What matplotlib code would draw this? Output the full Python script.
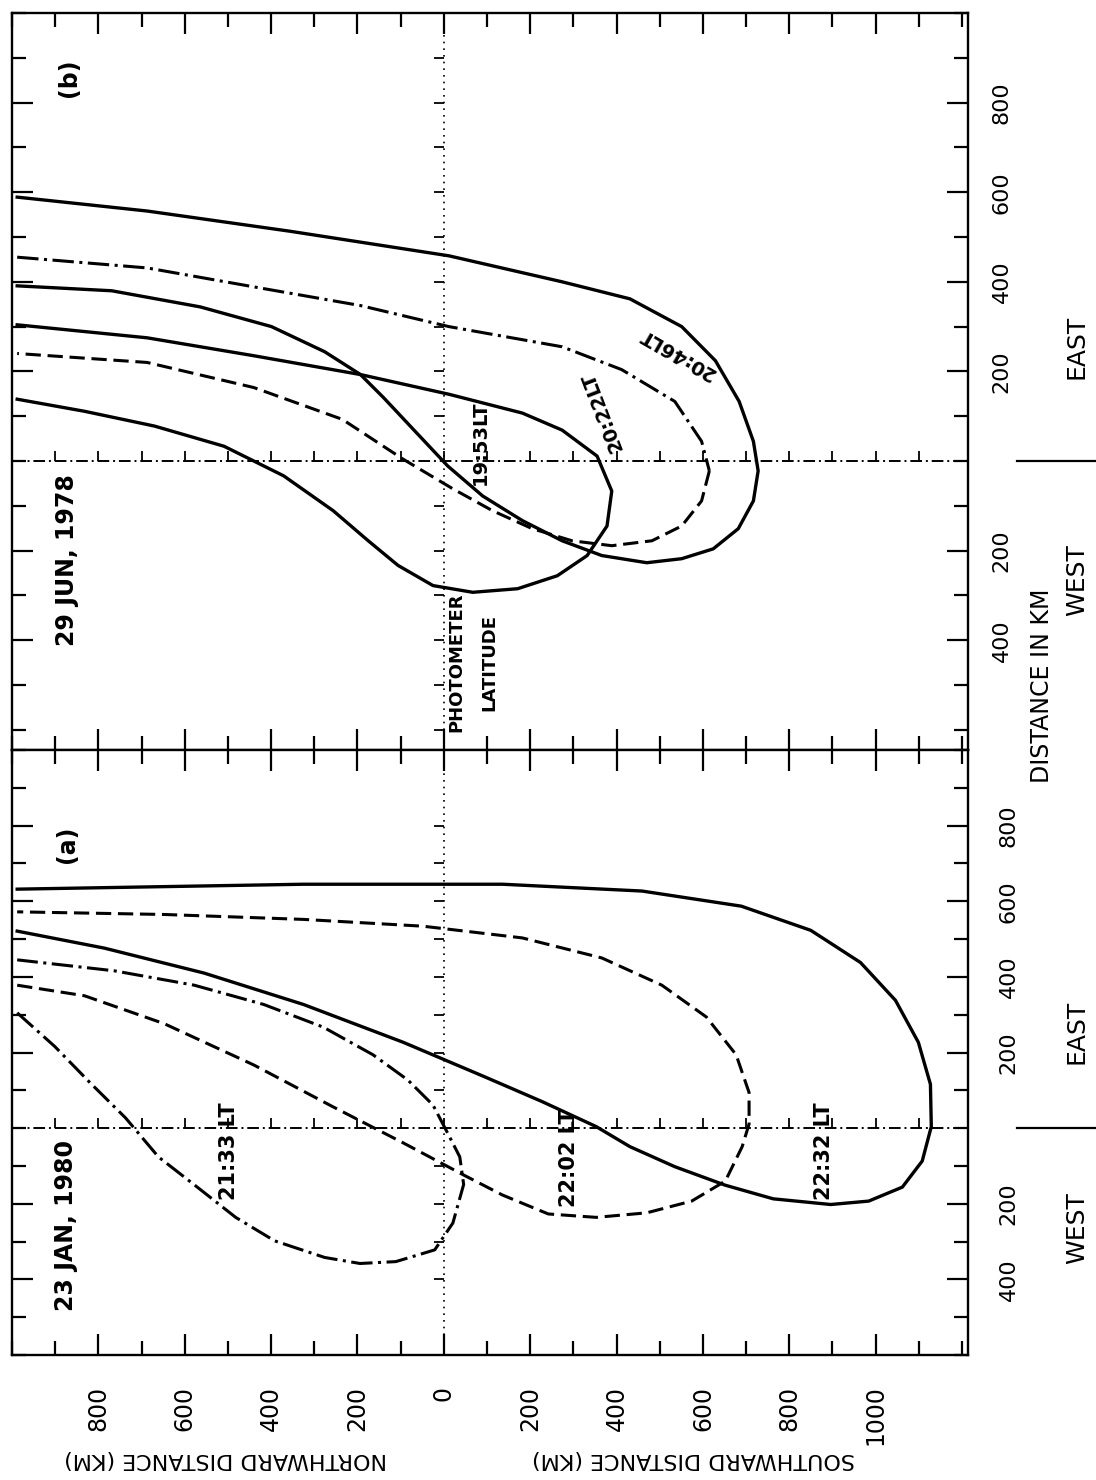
import matplotlib
matplotlib.use("Agg")
import matplotlib.pyplot as plt

plt.rcParams['font.family'] = ['DejaVu Sans']

W, H = 1096, 1480
X0, X1 = 12, 968
B_TOP, SEP, A_BOT = 13, 750, 1355

NS_LIM = (988, -1214)   # northward distance (km), north on the left
B_LIM = (-645, 993)     # eastward distance (km), panel (b)
A_LIM = (-495, 849)     # eastward distance (km), panel (a)

# ---------------- panel (b): 29 JUN 1978 ----------------
# 20:46 LT, solid
b_2046_n = [988, 687, 357, -12, -274, -431, -551, -629, -684, -717, -728, -717,
            -682, -624, -551, -470, -366, -274, -182, -90, -9, 69, 140, 193,
            276, 399, 564, 769, 988]
b_2046_e = [589, 558, 513, 458, 400, 362, 300, 224, 133, 44, -22, -89,
            -151, -196, -218, -227, -211, -178, -133, -78, -11, 69, 142, 193,
            244, 300, 344, 380, 391]
# 20:22 LT, dash-dot outer arm then dashed
b_2022_n = [988, 687, 424, 193, -12, -274, -412, -535, -597, -615, -597, -551,
            -482, -389, -297, -205, -113, -21, 94, 235, 440, 687, 988]
b_2022_e = [455, 431, 386, 347, 300, 255, 204, 133, 44, -22, -89, -145,
            -178, -189, -178, -151, -111, -62, 4, 93, 164, 220, 240]
# 19:53 LT, solid
b_1953_n = [988, 687, 440, 193, -12, -182, -274, -355, -389, -378, -332, -263,
            -171, -67, 25, 106, 175, 256, 371, 509, 670, 832, 988]
b_1953_e = [304, 275, 235, 193, 149, 107, 69, 11, -67, -145, -211, -256,
            -285, -293, -278, -233, -178, -111, -33, 33, 78, 111, 138]

# ---------------- panel (a): 23 JAN 1980 ----------------
# 21:33 LT, dash-dot
a_2133_n = [988, 901, 820, 737, 661, 571, 482, 392, 276, 194, 111, 21, -21,
            -46, -37, -12, 25, 83, 164, 279, 417, 578, 763, 988]
a_2133_e = [305, 216, 121, 27, -76, -156, -236, -298, -342, -358, -353, -322,
            -251, -149, -76, -20, 61, 127, 194, 267, 327, 378, 416, 445]
# 22:02 LT, dashed
a_2202_n = [988, 832, 647, 440, 256, 94, -46, -136, -242, -353, -470, -574,
            -652, -691, -707, -707, -677, -608, -505, -366, -182, 48, 325,
            647, 988]
a_2202_e = [378, 350, 276, 167, 56, -39, -124, -177, -227, -236, -224, -193,
            -140, -49, 11, 94, 194, 294, 378, 450, 503, 534, 552, 565, 572]
# 22:32 LT, solid
a_2232_n = [988, 786, 555, 325, 94, -90, -228, -353, -431, -535, -652, -763,
            -896, -984, -1062, -1108, -1129, -1127, -1099, -1046, -965, -850,
            -689, -459, -136, 325, 988]
a_2232_e = [521, 476, 410, 327, 227, 138, 70, 4, -49, -102, -151, -187, -202,
            -193, -156, -87, 4, 116, 227, 338, 438, 523, 587, 627, 645, 645,
            632]

ns_major = list(range(-1000, 801, 200))
ns_minor = list(range(-1200, 1001, 100))
e_labels = [800, 600, 400, 200, -200, -400]

fig = plt.figure(figsize=(W / 100, H / 100), dpi=100)
axb = fig.add_axes([X0 / W, 1 - SEP / H, (X1 - X0) / W, (SEP - B_TOP) / H])
axa = fig.add_axes([X0 / W, 1 - A_BOT / H, (X1 - X0) / W, (A_BOT - SEP) / H])

solid = dict(color="black", lw=2.4, ls="-")
dashed = dict(color="black", lw=2.2, ls=(0, (5, 2.2)))
dashdot = dict(color="black", lw=2.2, ls=(0, (7, 1.8, 1, 1.8)))

axb.plot(b_2046_n, b_2046_e, **solid)
axb.plot(b_2022_n[:10], b_2022_e[:10], **dashdot)
axb.plot(b_2022_n[9:], b_2022_e[9:], **dashed)
axb.plot(b_1953_n, b_1953_e, **solid)

axa.plot(a_2133_n, a_2133_e, **dashdot)
axa.plot(a_2202_n, a_2202_e, **dashed)
axa.plot(a_2232_n, a_2232_e, **solid)

for ax, ylim in [(axb, B_LIM), (axa, A_LIM)]:
    ax.set_xlim(*NS_LIM)
    ax.set_ylim(*ylim)
    ax.set_xticks(ns_major)
    ax.set_xticks(ns_minor, minor=True)
    ax.set_yticks(e_labels)
    ax.set_yticks(range(-600, 1001, 100), minor=True)
    ax.set_yticklabels([str(abs(v)) for v in e_labels], rotation=90,
                       va="center", fontsize=16)
    ax.tick_params(which="both", direction="in", width=1.6, top=True,
                   bottom=True, left=True, right=True, labelleft=False,
                   labelright=True, labelbottom=False, pad=17)
    ax.tick_params(which="major", length=15)
    ax.tick_params(which="minor", length=10)
    for s in ax.spines.values():
        s.set_linewidth(1.7)
    # reference cross: eastward zero and photometer latitude, with small ticks
    ax.axhline(0, color="black", lw=1.4, ls=(0, (6, 2, 1, 2)))
    ax.axvline(0, color="black", lw=1.2, ls=(0, (1, 3)))
    ax.plot(ns_minor[1:-1], [0] * (len(ns_minor) - 2), ls="none", marker=2,
            ms=7, mew=1.3, color="black")
    e_marks = [v for v in range(-600, 1001, 100) if ylim[0] < v < ylim[1] and v != 0]
    ax.plot([0] * len(e_marks), e_marks, ls="none", marker=0, ms=7, mew=1.3,
            color="black")
    ytr = ax.get_yaxis_transform()
    ax.plot([1.051, 1.134], [0, 0], color="black", lw=1.6,
            transform=ytr, clip_on=False)
    ax.text(1.114, -265, "WEST", transform=ytr, rotation=90, fontsize=18,
            ha="center", va="center")
    ax.text(1.114, 255, "EAST", transform=ytr, rotation=90, fontsize=18,
            ha="center", va="center")

axa.tick_params(labelbottom=True, pad=22)
axa.set_xticklabels([str(abs(v)) for v in ns_major], rotation=90, fontsize=17)

xtr = axa.get_xaxis_transform()
axa.text(505, -0.172, "NORTHWARD DISTANCE (KM)", transform=xtr, rotation=180,
         fontsize=16, ha="center", va="center")
axa.text(-578, -0.172, "SOUTHWARD DISTANCE (KM)", transform=xtr, rotation=180,
         fontsize=16, ha="center", va="center")
axb.text(1.077, 0.087, "DISTANCE IN KM", transform=axb.transAxes,
         rotation=90, fontsize=17, ha="center", va="center")

lab = dict(fontsize=17, fontweight="bold", ha="center", va="center")
axb.text(869, 855, "(b)", rotation=90, **lab)
axb.text(873, -222, "29 JUN, 1978", rotation=90, **lab)
axa.text(873, 750, "(a)", rotation=90, **lab)
axa.text(876, -257, "23 JAN, 1980", rotation=90, **lab)

lt = dict(fontsize=14, fontweight="bold", ha="center", va="center")
axb.text(-85, 40, "19:53LT", rotation=90, **lt)
axb.text(-366, 111, "20:22LT", rotation=111, **lt)
axb.text(-541, 240, "20:46LT", rotation=150, **lt)
lt["fontsize"] = 15
axa.text(498, -62, "21:33 LT", rotation=90, **lt)
axa.text(-290, -80, "22:02 LT", rotation=90, **lt)
axa.text(-880, -62, "22:32 LT", rotation=90, **lt)

axb.text(-28, -450, "PHOTOMETER", rotation=90, fontsize=13,
         fontweight="bold", ha="center", va="center")
axb.text(-106, -450, "LATITUDE", rotation=90, fontsize=13,
         fontweight="bold", ha="center", va="center")

fig.savefig("out.png", dpi=100)
